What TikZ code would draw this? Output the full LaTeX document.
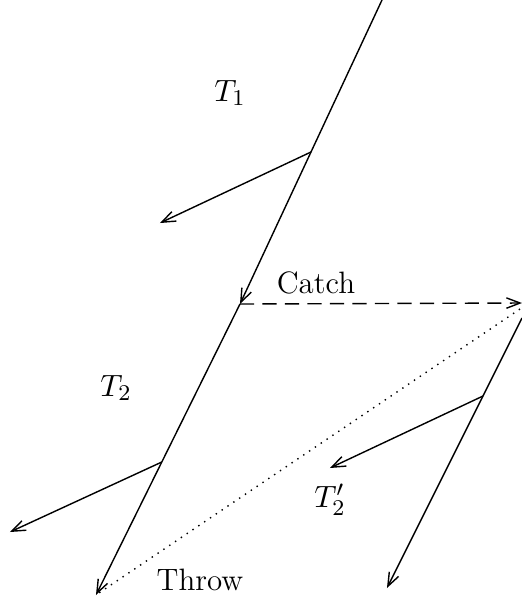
\documentclass[tikz,border=0pt]{standalone}
\usetikzlibrary{arrows.meta,positioning,calc}

\begin{document}
\begin{tikzpicture}[
    x=0.125mm, y=-0.125mm,
    every node/.style={font=\fontsize{11}{13}\selectfont},
    lbl/.style={inner sep=1pt},
    flow/.style={-{Straight Barb[length=1.7mm, width=1.3mm]}, line width=0.5pt},
    catchline/.style={flow, dashed, dash pattern=on 5pt off 3pt},
    throwline/.style={line width=0.5pt, dotted}
]
\useasboundingbox (0,0) rectangle (522,598);
% thread T1 and its end
\coordinate (top) at (382,0);
\coordinate (catch) at (240,304);
\coordinate (fork1) at ($(top)!0.5!(catch)$);
\coordinate (end1) at (160,223);
% thread T2
\coordinate (bottom) at (96,595);
\coordinate (fork2) at ($(catch)!0.543!(bottom)$);
\coordinate (end2) at (10,532);
% thread T2'
\coordinate (right) at (522,303);
\coordinate (start3) at (522,318);
\coordinate (bottom3) at (387,588);
\coordinate (fork3) at ($(start3)!0.289!(bottom3)$);
\coordinate (end3) at (330,468);

\node[lbl] (t1) at (230,93) {$T_1$};
\node[lbl] (catchlbl) at (316,283) {Catch};
\node[lbl] (t2) at (116,388) {$T_2$};
\node[lbl] (t2p) at (330,500) {$T_2'$};
\node[lbl] (throwlbl) at (200,580) {Throw};

\draw[flow] (top) -- (catch);
\draw[flow] (fork1) -- (end1);
\draw[catchline] (catch) -- (right);
\draw[flow] (catch) -- (bottom);
\draw[flow] (fork2) -- (end2);
\draw[throwline] (520,309) -- (bottom);
\draw[flow] (start3) -- (bottom3);
\draw[flow] (fork3) -- (end3);
\end{tikzpicture}
\end{document}
